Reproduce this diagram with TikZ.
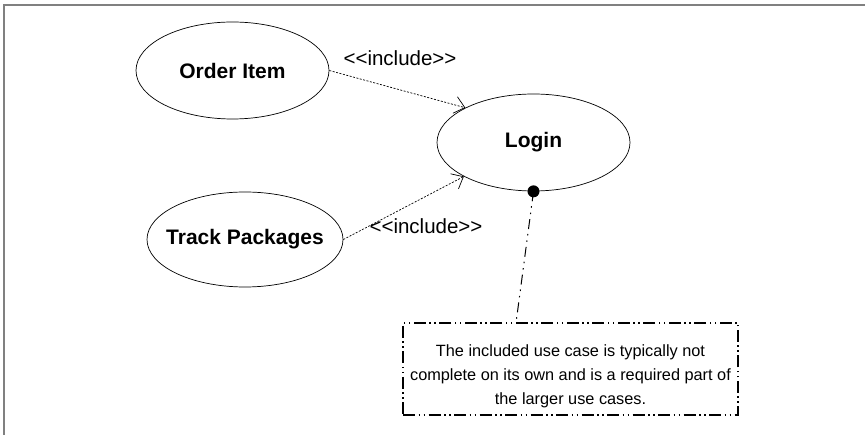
\documentclass[tikz,border=0pt]{standalone}
\usepackage{fontspec}
\setmainfont{Liberation Sans}
\usetikzlibrary{shapes.geometric,arrows.meta}
\tikzset{
  usecase/.style={draw, ellipse, line width=0.7pt, inner sep=0pt, minimum width=193pt, minimum height=97pt},
  uctext/.style={font=\fontsize{21}{24}\selectfont\bfseries, inner sep=0pt},
  incl/.style={draw, line width=0.7pt, dash pattern=on 2pt off 1.5pt, -{Straight Barb[length=10pt,width=17pt,line width=0.7pt]}},
  lbl/.style={font=\fontsize{20.5}{23}\selectfont, inner sep=0pt},
  notebox/.style={draw, line width=1.2pt, dash pattern=on 12pt off 3.5pt on 1.5pt off 3.5pt on 1.5pt off 3.5pt, minimum width=335pt, minimum height=92pt, inner sep=0pt},
  notetext/.style={align=center, inner sep=0pt, font=\fontsize{16.3}{24}\selectfont, yshift=-7pt},
  anchorline/.style={draw, line width=1pt, dash pattern=on 10pt off 5pt on 1.5pt off 5pt on 1.5pt off 5pt},
  frameline/.style={draw=black!50, line width=2pt}
}
\begin{document}
\begin{tikzpicture}[x=1pt,y=-1pt]
\useasboundingbox (0,0) rectangle (865,435);
\coordinate (ftl) at (4,5);
\coordinate (ftr) at (865,5);
\coordinate (fbl) at (4,435);
\draw[frameline] (fbl) -- (ftl) -- (ftr);
\node[usecase, label={[uctext]center:Order Item}] (oi) at (232.5,70.5) {};
\node[usecase, label={[uctext]center:Login}] (login) at (533.5,142.5) {};
\node[usecase, minimum width=196pt, minimum height=95pt, label={[uctext]center:Track Packages}] (tp) at (245,239.5) {};
\node[notebox, label={[notetext]center:{The included use case is typically not\\complete on its own and is a required part of\\the larger use cases.}}] (note) at (570.5,369) {};
\coordinate (nt) at (516,323);
\draw[incl] (oi.0) -- (login.153.9);
\draw[incl] (tp.0) -- (login.206.7);
\node[lbl] (l1) at (400,58) {<{}<include>{}>};
\node[lbl] (l2) at (426,226) {<{}<include>{}>};
\draw[anchorline] (login.south) -- (nt);
\fill (login.south) circle (6);
\end{tikzpicture}
\end{document}
